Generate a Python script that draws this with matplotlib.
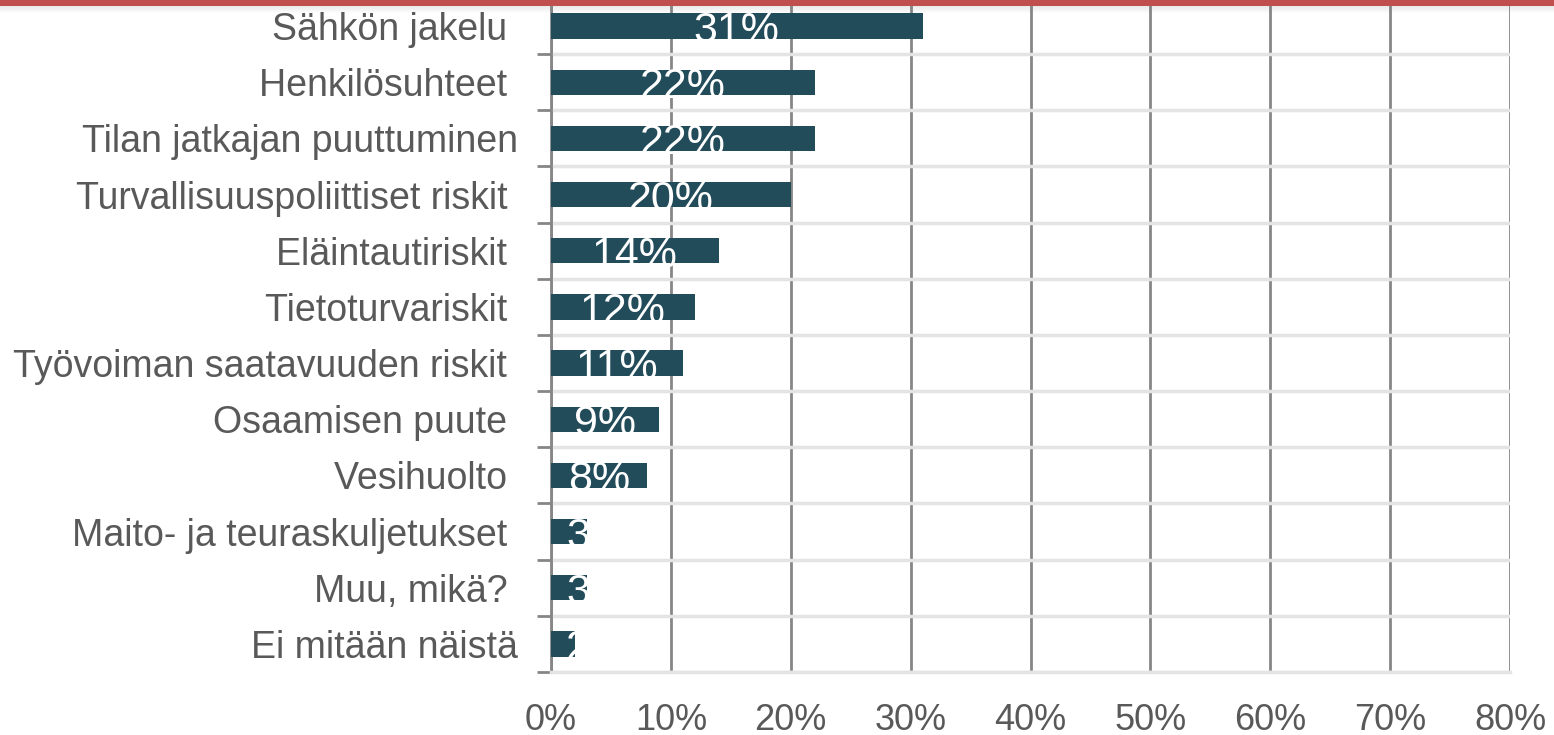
import matplotlib
matplotlib.use('Agg')
from matplotlib import pyplot as plt
from matplotlib.patches import Rectangle
from matplotlib.ticker import FixedLocator

plt.rcParams['font.family'] = ['Liberation Sans', 'DejaVu Sans']

# Data (percent of respondents)
categories = ["Sähkön jakelu ", "Henkilösuhteet ", "Tilan jatkajan puuttuminen",
              "Turvallisuuspoliittiset riskit ", "Eläintautiriskit ", "Tietoturvariskit ",
              "Työvoiman saatavuuden riskit ", "Osaamisen puute ", "Vesihuolto ",
              "Maito- ja teuraskuljetukset ", "Muu, mikä? ", "Ei mitään näistä"]
values = [31, 22, 22, 20, 14, 12, 11, 9, 8, 3, 3, 2]
xticks = [0, 10, 20, 30, 40, 50, 60, 70, 80]

bar_color = '#234C5A'
text_gray = '#595959'

fig = plt.figure(figsize=(15.54, 7.35), dpi=100)
ax = fig.add_axes([551/1554, 1 - 672/735, (1510 - 551)/1554, (672 + 2)/735])

y = list(range(len(categories)))
bar_h = 0.45
bars = ax.barh(y, values, height=bar_h, color=bar_color, zorder=3)

# white value labels: big text starting at the bar top, clipped to the bar
for rect, v in zip(bars, values):
    xc = max(v / 2, 3.85)  # small bars: label pushed right as in the original
    t = ax.text(xc, rect.get_y() + 0.51, f"{v}%",
                ha='center', va='baseline', color='white', fontsize=31, zorder=4)
    t.set_clip_path(rect)

ax.set_xlim(0, 80)
ax.set_ylim(len(categories) - 0.5, -0.5)
ax.set_xticks(xticks)
ax.set_xticklabels([f"{t}%" for t in xticks])
ax.set_yticks(y)
ax.set_yticklabels(categories)

# boundaries between categories get the tick marks and light grid lines
bounds = [i - 0.5 for i in range(len(categories) + 1)]
ax.yaxis.set_minor_locator(FixedLocator(bounds))
ax.tick_params(axis='y', which='major', length=0, pad=24, labelsize=27, labelcolor=text_gray)
ax.tick_params(axis='y', which='minor', length=10, width=2, color='#868686')
ax.tick_params(axis='x', which='major', length=0, pad=22, labelsize=26, labelcolor=text_gray)

ax.grid(axis='x', color='#868686', linewidth=2, zorder=0)
ax.grid(axis='y', which='minor', color='#e4e4e4', linewidth=2.5, zorder=0)

for s in ['top', 'right']:
    ax.spines[s].set_visible(False)
ax.spines['left'].set_color('#868686')
ax.spines['left'].set_linewidth(2)
ax.spines['bottom'].set_color('#e4e4e4')
ax.spines['bottom'].set_linewidth(2.5)

# red band with soft shadow at the top
for i in range(8):
    a = 0.18 * (1 - i / 8)
    fig.patches.append(Rectangle((0, 1 - (6 + i) / 735), 1, 1 / 735, transform=fig.transFigure,
                                 color='gray', alpha=a, lw=0, zorder=9))
fig.patches.append(Rectangle((0, 1 - 6 / 735), 1, 6 / 735, transform=fig.transFigure,
                             color='#C0504D', lw=0, zorder=10))

fig.savefig('out.png', dpi=100)
